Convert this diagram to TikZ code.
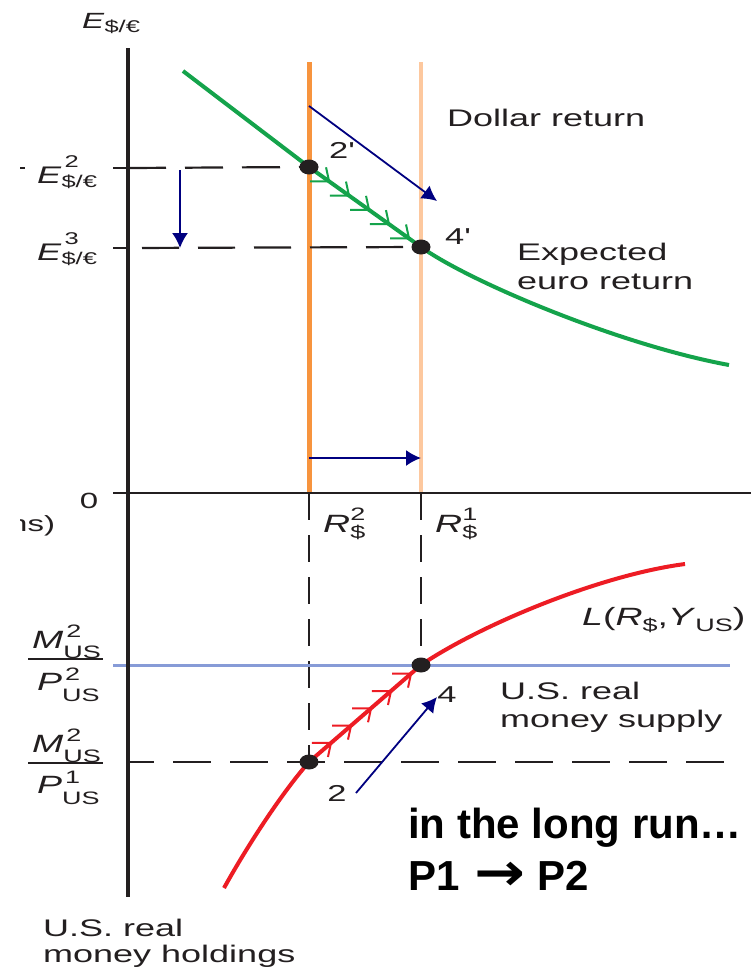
\documentclass[tikz,border=0pt]{standalone}
\usepackage{fontspec}
\setmainfont{Liberation Sans}
\newfontfamily\arrowfont{DejaVu Sans}
\usepackage{graphicx}
\usetikzlibrary{arrows.meta,calc,shapes.geometric}
\definecolor{ink}{RGB}{35,31,32}
\definecolor{eurogreen}{RGB}{20,163,75}
\definecolor{orangeD}{RGB}{247,148,62}
\definecolor{orangeL}{RGB}{253,200,158}
\definecolor{moneyred}{RGB}{237,28,36}
\definecolor{navyarrow}{RGB}{0,0,128}
\definecolor{supplyblue}{RGB}{135,155,215}
\newcommand\hs[1]{\scalebox{1.5}[1]{#1}}
\newcommand\fs[1]{\fontsize{#1}{#1}\selectfont}
\newcommand\prm{\textquotesingle}
\begin{document}
\begin{tikzpicture}[x=1pt,y=-1pt,
  lab/.style={inner sep=0pt, text=ink},
  dotnode/.style={ellipse, fill=ink, draw=none, minimum width=19pt, minimum height=15pt, inner sep=0pt},
  shiftarrow/.style={navyarrow, line width=1.8pt, -{Latex[length=15pt,width=16pt]}},
  hdash/.style={ink, line width=2.2pt, dash pattern=on 38pt off 19pt},
  vdash/.style={ink, line width=2.2pt, dash pattern=on 27pt off 15pt},
  gmark/.style={eurogreen, line width=2pt},
  rmark/.style={moneyred, line width=2pt},
]
\useasboundingbox (0,0) rectangle (751,970);
\fill[white] (0,0) rectangle (751,970);

% key points
\coordinate (c2p) at (309,167);
\coordinate (c4p) at (421,247);
\coordinate (c2) at (309,762);
\coordinate (c4) at (421,665);
\coordinate (axTop) at (128,48);
\coordinate (axBot) at (128,897);
\coordinate (hx0) at (113,493);
\coordinate (hx1) at (751,493);
\coordinate (oD0) at (309,62);
\coordinate (oD1) at (309,493);
\coordinate (oL0) at (421,62);
\coordinate (oL1) at (421,493);

% dollar return lines
\draw[orangeD, line width=5pt] (oD0) -- (oD1);
\draw[orangeL, line width=4.5pt] (oL0) -- (oL1);

% dashed guides (top)
\draw[ink, line width=2pt] (20,168) -- (25,168);
\draw[ink, line width=2.2pt] (113,168) -- (128,168);
\draw[hdash] (128,168) -- (c2p);
\draw[ink, line width=2.2pt] (113,248) -- (128,248);
\draw[hdash, dash pattern=on 37pt off 19pt, dash phase=42pt] (128,248) -- (c4p);

% dashed guides (bottom)
\draw[vdash] (oD1) -- (c2);
\draw[vdash] (oL1) -- (c4);
\draw[hdash, dash phase=12pt] (128,762) -- (724,762);

% real money supply line
\draw[supplyblue, line width=3pt] (113,665) -- (730,665);

% axes
\draw[ink, line width=4.5pt] (axTop) -- (axBot);
\draw[ink, line width=2.5pt] (hx0) -- (hx1);

% expected euro return curve
\coordinate (g0) at (183,71);
\coordinate (g1) at (729,365);
\draw[eurogreen, line width=4pt] (g0) -- (c2p) -- (c4p) .. controls (470,282) and (620,345) .. (g1);
\foreach \f in {0.179,0.357,0.536,0.714,0.893}
  \draw[gmark] ($(c2p)!\f!(c4p)$) +(-19,0) -- +(0,0) -- +(-3,-14);

% money demand curve
\coordinate (r0) at (224,888);
\coordinate (r1) at (685,564);
\draw[moneyred, line width=4pt] (r0) .. controls (245,850) and (280,795) .. (c2) -- (c4) .. controls (480,625) and (600,575) .. (r1);
\foreach \f in {0.196,0.375,0.554,0.732,0.911}
  \draw[rmark] ($(c2)!\f!(c4)$) +(-19,0) -- +(0,0) -- +(-3,14);

% equilibrium dots
\node[dotnode] (p2p) at (c2p) {};
\node[dotnode] (p4p) at (c4p) {};
\node[dotnode] (p2) at (c2) {};
\node[dotnode] (p4) at (c4) {};

% shift arrows
\coordinate (a1s) at (180,170); \coordinate (a1e) at (180,248);
\coordinate (a2s) at (309,106); \coordinate (a2e) at (437,201);
\coordinate (a3s) at (309,458); \coordinate (a3e) at (421,458);
\coordinate (a4s) at (356,793); \coordinate (a4e) at (437,697);
\draw[shiftarrow] (a1s) -- (a1e);
\draw[shiftarrow] (a2s) -- (a2e);
\draw[shiftarrow] (a3s) -- (a3e);
\draw[shiftarrow] (a4s) -- (a4e);

% axis labels
\node[lab, anchor=base west] (yaxlab) at (82,28) {\hs{\fs{22}\textit{E}\raisebox{-4pt}{\fs{17}\$/€}}};
\node[lab, anchor=base west] (e2lab) at (37,183) {\hs{\fs{24}\textit{E}\rlap{\hspace{2pt}\raisebox{16pt}{\fs{17}2}}\raisebox{-4pt}{\fs{17}\$/€}}};
\node[lab, anchor=base west] (e3lab) at (37,260) {\hs{\fs{24}\textit{E}\rlap{\hspace{2pt}\raisebox{16pt}{\fs{17}3}}\raisebox{-4pt}{\fs{17}\$/€}}};
\node[lab, anchor=base] (zero) at (89,508) {\hs{\fs{22}0}};
\begin{scope}
  \clip (20,500) rectangle (75,545);
  \node[lab, anchor=base west] (cutlab) at (9,531) {\hs{\fs{22}ns)}};
\end{scope}
\node[lab, anchor=base west] (r2lab) at (323,532) {\hs{\fs{25}\textit{R}\rlap{\raisebox{12pt}{\fs{18}2}}\raisebox{-6pt}{\fs{18}\$}}};
\node[lab, anchor=base west] (r1lab) at (435,532) {\hs{\fs{25}\textit{R}\rlap{\raisebox{12pt}{\fs{18}1}}\raisebox{-6pt}{\fs{18}\$}}};

% fractions
\node[lab, anchor=base west] (m1) at (32,648) {\hs{\fs{25}\textit{M}\rlap{\hspace{2pt}\raisebox{11pt}{\fs{18}2}}\raisebox{-10pt}{\fs{18}US}}};
\draw[ink, line width=1.5pt] (28,659) -- (103,659);
\node[lab, anchor=base west] (pp2) at (37,690) {\hs{\fs{25}\textit{P}\rlap{\hspace{2pt}\raisebox{10pt}{\fs{18}2}}\raisebox{-11pt}{\fs{18}US}}};
\node[lab, anchor=base west] (m2) at (32,752) {\hs{\fs{25}\textit{M}\rlap{\hspace{2pt}\raisebox{11pt}{\fs{18}2}}\raisebox{-10pt}{\fs{18}US}}};
\draw[ink, line width=1.5pt] (28,763) -- (103,763);
\node[lab, anchor=base west] (pp1) at (37,793) {\hs{\fs{25}\textit{P}\rlap{\hspace{2pt}\raisebox{10pt}{\fs{18}1}}\raisebox{-11pt}{\fs{18}US}}};

% curve labels
\node[lab, anchor=base west] (dollar) at (447,126) {\hs{\fs{24}Dollar return}};
\node[lab, anchor=base west] (euro) at (517,260) {\hs{\fontsize{24}{29}\selectfont\begin{tabular}[t]{@{}l@{}}Expected\\euro return\end{tabular}}};
\node[lab, anchor=base west] (Lfun) at (582,625) {\hs{\fs{25}\textit{L}(\textit{R}\raisebox{-6pt}{\fs{18}\$},\textit{Y}\raisebox{-6pt}{\fs{18}US})}};
\node[lab, anchor=base west] (supply) at (500,699) {\hs{\fontsize{24}{28}\selectfont\begin{tabular}[t]{@{}l@{}}U.S. real\\money supply\end{tabular}}};
\node[lab, anchor=base west] (holdings) at (43,936) {\hs{\fontsize{24}{26}\selectfont\begin{tabular}[t]{@{}l@{}}U.S. real\\money holdings\end{tabular}}};

% point labels
\node[lab] (l2p) at (342,150) {\hs{\fs{23}2\prm}};
\node[lab] (l4p) at (458,237) {\hs{\fs{23}4\prm}};
\node[lab] (l2) at (337,793) {\hs{\fs{23}2}};
\node[lab] (l4) at (447,695) {\hs{\fs{23}4}};

% long-run note
\node[inner sep=0pt, anchor=base west, text=black] (note1) at (408,838) {\fs{42}\bfseries in the long run…};
\node[inner sep=0pt, anchor=base west, text=black] (note2) at (408,890) {\fs{42}\bfseries P1\hspace{0.35em}\scalebox{1.45}[1.25]{\arrowfont\bfseries →}\hspace{0.3em}P2};
\end{tikzpicture}
\end{document}
